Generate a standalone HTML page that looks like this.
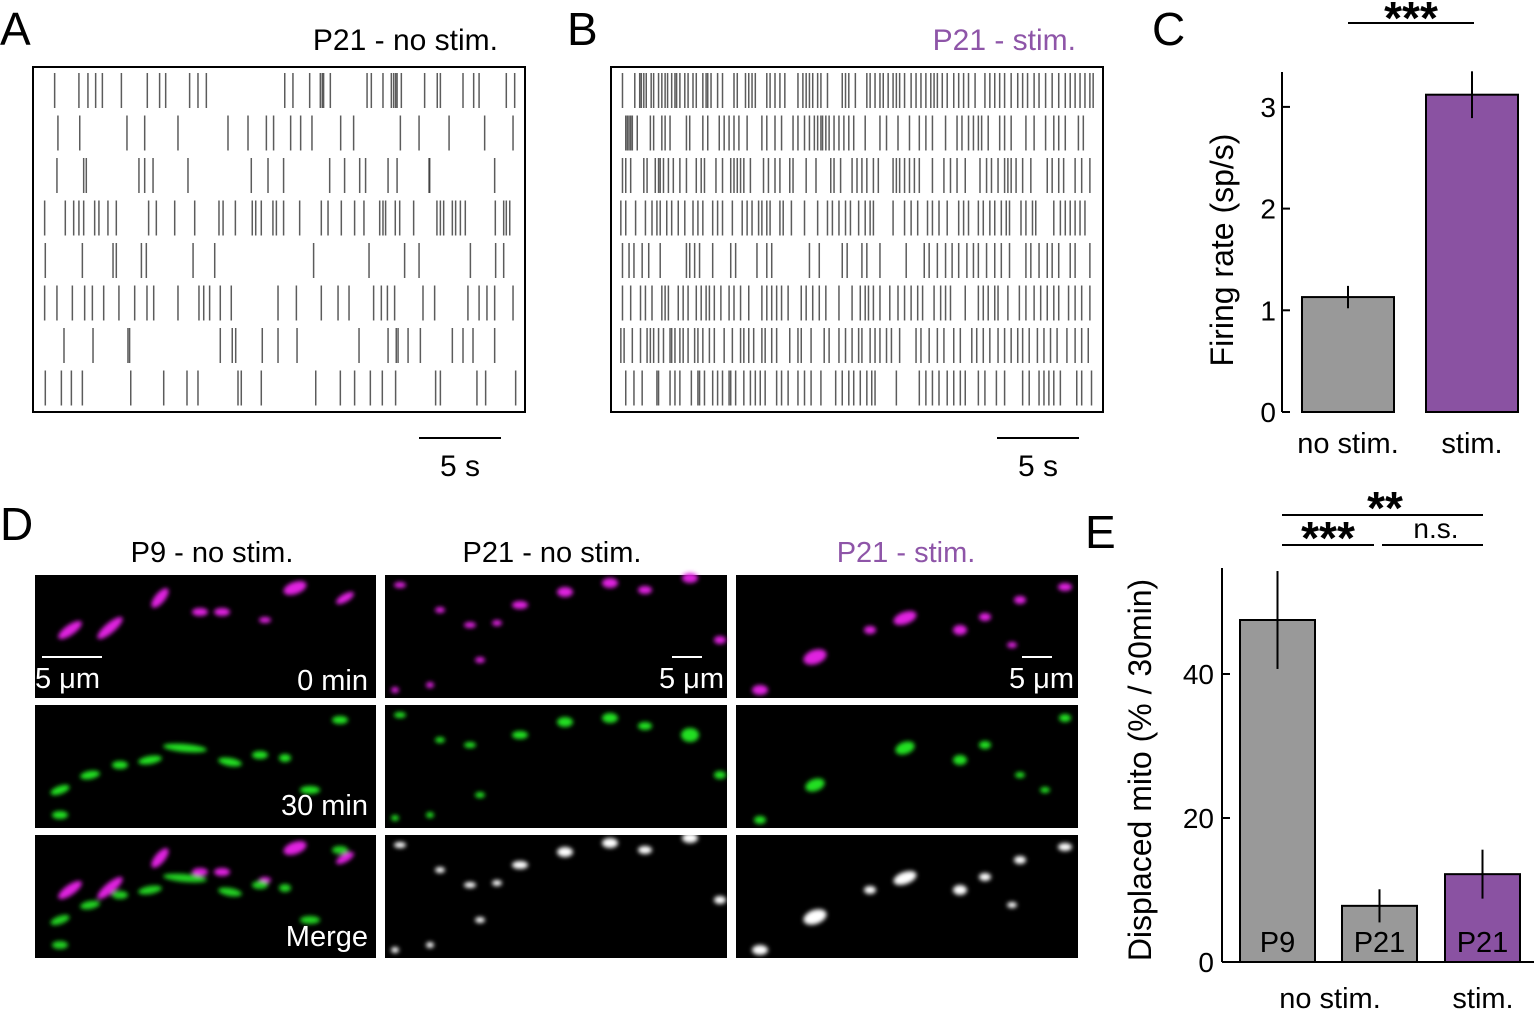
<!DOCTYPE html>
<html><head><meta charset="utf-8"><style>
html,body{margin:0;padding:0;background:#fff;}
svg text{font-family:"Liberation Sans",Arial,sans-serif;}
</style></head><body>
<svg id="fig" width="1535" height="1011" viewBox="0 0 1535 1011" xmlns="http://www.w3.org/2000/svg">
<defs>
<filter id="blur" x="-50%" y="-50%" width="200%" height="200%"><feGaussianBlur stdDeviation="2.2"/></filter>
</defs>
<g font-size="46" fill="#000">
<text x="0" y="45">A</text>
<text x="567" y="45">B</text>
<text x="1152" y="45">C</text>
<text x="0" y="540">D</text>
<text x="1085" y="548">E</text>
</g>
<text x="498" y="50" font-size="30" text-anchor="end">P21 - no stim.</text>
<text x="1076" y="50" font-size="30" text-anchor="end" fill="#8e55a8">P21 - stim.</text>
<rect x="33" y="67" width="492" height="345" fill="none" stroke="#000" stroke-width="2"/>
<rect x="611" y="67" width="492" height="345" fill="none" stroke="#000" stroke-width="2"/>
<g id="rasterA"></g>
<g id="rasterB"></g>
<line x1="419" y1="438" x2="501" y2="438" stroke="#000" stroke-width="2"/>
<text x="460" y="476" font-size="30" text-anchor="middle">5 s</text>
<line x1="997" y1="438" x2="1079" y2="438" stroke="#000" stroke-width="2"/>
<text x="1038" y="476" font-size="30" text-anchor="middle">5 s</text>

<g id="chartC"></g>
<g id="chartE"></g>

<g font-size="29">
<text x="212" y="562" text-anchor="middle">P9 - no stim.</text>
<text x="552" y="562" text-anchor="middle">P21 - no stim.</text>
<text x="906" y="562" text-anchor="middle" fill="#8e55a8">P21 - stim.</text>
</g>
<g id="images"></g>
</svg>
<script>
const rasterDuration = 30;
const spikesA = [
[1.32,2.80,3.35,3.82,4.23,5.39,6.97,7.72,8.09,9.55,10.06,10.57,15.35,15.85,16.87,17.52,17.64,17.72,18.13,20.37,20.63,21.34,21.85,21.99,22.11,22.20,22.46,23.88,24.65,24.84,26.22,26.87,27.20,28.86,29.37],
[1.52,2.85,5.73,6.81,8.84,11.89,13.11,14.23,14.67,15.71,16.32,17.01,18.76,19.55,22.40,23.54,25.37,27.54,29.27],
[1.46,3.09,3.25,6.46,6.81,7.32,9.45,13.31,14.33,15.28,18.09,19.00,19.92,20.28,21.65,22.20,24.15,24.19,28.15],
[0.71,1.97,2.48,2.80,3.09,3.76,4.02,4.57,5.08,7.05,7.52,8.64,9.86,11.34,11.59,12.34,13.37,13.58,13.92,14.63,14.84,15.28,16.26,17.58,17.99,18.80,19.61,20.18,21.14,21.34,21.50,22.09,22.36,23.21,24.63,24.84,25.04,25.57,25.77,26.06,26.36,28.19,28.70,28.86,29.07],
[0.75,3.01,4.88,5.08,6.61,6.91,9.76,11.08,17.11,20.49,22.66,23.54,26.67,28.21,28.70],
[0.71,1.46,2.40,3.15,3.62,4.31,5.24,6.20,6.95,7.36,8.84,10.12,10.41,10.77,11.42,12.09,14.94,16.06,17.58,18.60,19.27,20.77,21.24,21.61,22.05,23.78,24.49,26.52,27.20,27.68,28.15,29.27],
[1.89,3.66,5.79,5.89,11.42,12.15,12.36,13.98,14.94,16.10,19.88,21.65,22.15,22.26,22.87,23.62,25.57,26.22,26.83,28.15],
[0.75,1.73,2.34,3.01,5.96,7.97,9.39,10.06,12.50,12.70,13.92,17.24,18.74,19.61,20.57,21.30,22.11,24.55,24.84,27.07,27.60,29.43]
];
const spikesB = [
[0.7,1.45,1.75,1.85,2.0,2.15,2.45,2.6,2.9,3.1,3.3,3.45,3.7,3.9,4.0,4.2,4.5,4.7,5.0,5.2,5.6,5.8,5.9,6.1,6.5,6.8,7.5,7.7,8.2,8.4,8.6,8.8,9.5,9.7,10.0,10.3,10.6,11.4,11.7,11.9,12.1,12.3,12.6,12.8,13.2,14.1,14.3,14.5,14.9,15.6,15.8,16.1,16.4,16.6,16.9,17.2,17.4,17.6,17.9,18.3,18.6,18.9,19.2,19.5,19.7,19.9,20.2,20.5,20.9,21.2,21.5,21.8,22.2,22.8,23.1,23.4,23.7,24.0,24.4,24.8,25.1,25.4,25.8,26.1,26.5,26.9,27.3,27.7,28.0,28.3,28.6,28.9,29.2,29.4],
[0.9,1.0,1.1,1.2,1.3,1.6,2.4,2.6,3.1,3.3,3.6,4.6,4.8,5.6,5.9,6.6,6.9,7.2,7.5,7.8,8.3,9.2,9.5,10.0,10.4,11.1,11.4,11.8,12.1,12.4,12.6,12.8,12.9,13.1,13.3,13.6,13.9,14.2,14.5,14.8,15.5,16.4,16.8,17.5,18.2,18.8,19.2,19.6,20.4,21.1,21.4,21.8,22.1,22.4,22.6,23.0,23.7,24.0,24.4,25.3,25.8,26.5,27.0,27.3,27.7,28.5,28.8],
[0.7,0.9,1.2,2.0,2.2,2.7,2.9,3.0,3.2,3.5,3.8,4.2,4.6,5.2,5.5,5.7,6.4,6.8,7.3,7.5,7.7,7.9,8.1,8.5,9.3,9.6,10.0,10.3,10.9,11.1,11.9,12.5,13.4,13.6,14.0,14.7,15.0,15.3,15.6,16.0,16.3,17.2,17.4,17.6,17.9,18.2,18.5,18.8,19.6,20.3,20.7,21.1,21.6,22.5,22.9,23.2,23.6,24.0,24.2,24.4,24.7,25.1,25.6,26.6,26.9,27.3,27.6,28.3,28.7,29.2],
[0.6,0.9,1.5,2.1,2.5,2.8,3.0,3.4,3.7,4.1,4.5,5.0,5.3,5.6,6.2,6.5,6.8,7.4,8.0,8.3,8.6,9.0,9.2,9.5,9.7,10.3,10.5,11.0,11.8,12.6,13.2,13.5,13.9,14.3,14.6,15.1,15.5,15.8,16.0,17.2,17.9,18.3,18.7,19.3,19.6,20.0,20.5,21.2,21.5,21.8,22.4,22.7,23.1,23.4,23.8,24.1,24.3,25.0,25.3,25.7,25.9,27.0,27.4,27.7,28.0,28.3,28.6,28.9],
[0.7,1.1,1.4,1.9,2.3,3.0,4.6,4.8,5.1,5.4,6.2,7.3,7.6,8.9,9.5,9.8,12.1,12.7,14.1,14.4,15.3,15.6,16.4,18.0,19.1,19.4,19.9,20.4,20.8,21.2,21.7,22.1,22.4,22.9,23.4,23.8,24.3,25.3,25.6,26.1,26.6,26.9,27.3,28.0,28.3,29.2],
[0.7,1.2,1.8,2.1,2.5,3.1,3.3,3.5,4.1,4.4,4.7,5.2,5.5,5.8,6.0,6.3,6.7,7.2,7.5,7.9,8.4,9.2,9.5,9.8,10.1,10.4,10.8,11.6,11.9,12.3,12.7,13.1,13.9,14.7,15.2,15.5,15.7,16.0,16.4,17.0,17.5,17.9,18.3,18.7,19.0,19.7,20.1,20.4,20.7,21.6,22.4,22.7,23.0,23.4,23.6,24.2,24.9,25.3,25.8,26.2,26.6,27.0,27.3,27.9,28.3,28.7,29.2],
[0.6,0.8,1.3,1.8,2.2,2.4,2.6,2.9,3.2,3.6,3.7,3.9,4.2,4.4,4.7,5.1,5.3,5.6,6.0,6.3,6.9,7.4,7.9,8.1,8.4,8.7,9.2,9.4,9.8,10.1,10.9,11.4,11.6,12.2,13.0,13.3,13.9,14.3,14.7,15.1,15.3,15.8,16.1,16.4,16.8,17.1,17.6,18.6,18.9,19.4,19.9,20.3,20.9,21.3,22.0,22.3,22.7,23.1,23.6,24.0,24.4,24.8,25.1,25.5,26.0,26.4,26.8,27.2,27.8,28.3,28.7,29.1],
[0.9,1.4,1.9,2.8,2.9,3.6,3.9,4.2,4.9,5.3,5.4,5.7,6.2,6.5,6.8,7.2,7.3,7.6,8.1,8.5,8.8,9.1,9.4,10.1,10.4,10.8,11.4,11.8,12.2,12.8,13.7,14.1,14.5,14.8,15.2,15.6,15.9,16.1,17.4,18.8,19.2,19.6,20.0,20.5,20.9,21.3,21.6,22.4,22.8,23.5,24.0,25.1,25.5,26.1,26.4,26.7,27.0,27.4,28.4,28.7,29.3]
];
const firingCategories = ["no stim.","stim."];
const firingMeans = [1.13, 3.12];
const firingErr = [0.11, 0.23];
const firingTicks = [0,1,2,3];
const mitoLabels = ["P9","P21","P21"];
const mitoMeans = [47.5, 7.8, 12.2];
const mitoErr = [6.8, 2.3, 3.4];
const mitoTicks = [0,20,40];

const NS="http://www.w3.org/2000/svg";
function mk(tag, attrs, parent){const e=document.createElementNS(NS,tag);for(const k in attrs)e.setAttribute(k,attrs[k]);parent.appendChild(e);return e;}

function drawRaster(gid, data, x0, w){
  const g=document.getElementById(gid);
  const xs=t=>x0+t/rasterDuration*w;
  data.forEach((row,ri)=>{
    const y0=73+ri*42.5;
    row.forEach(t=>{
      const l=mk('line',{x1:xs(t),x2:xs(t),y1:y0,y2:y0+35,stroke:'#333','stroke-width':1.5,'stroke-opacity':0.8},g);
      
      
    });
  });
}
drawRaster('rasterA', spikesA, 33, 492);
drawRaster('rasterB', spikesB, 611, 492);

(function(){
  const g=document.getElementById('chartC');
  const y=v=>412-v*101.7;
  mk('line',{x1:1282,y1:72,x2:1282,y2:412,stroke:'#000','stroke-width':2},g);
  firingTicks.forEach(t=>{
    mk('line',{x1:1282,x2:1290,y1:y(t),y2:y(t),stroke:'#000','stroke-width':2},g);
    const tx=mk('text',{x:1276,y:y(t)+10,'font-size':28,'text-anchor':'end'},g);tx.textContent=t;
    
    
  });
  const lab=mk('text',{x:0,y:0,'font-size':32,'text-anchor':'middle',transform:'translate(1233,250) rotate(-90)'},g);
  lab.textContent='Firing rate (sp/s)';
  
  
  const colors=['#999999','#8a52a2'];
  const xs=[1302,1426], bw=92;
  firingMeans.forEach((v,i)=>{
    const r=mk('rect',{x:xs[i],y:y(v),width:bw,height:412-y(v),fill:colors[i],stroke:'#000','stroke-width':2},g);
    
    
    const cx=xs[i]+bw/2;
    mk('line',{x1:cx,x2:cx,y1:y(v+firingErr[i]),y2:y(v-firingErr[i]),stroke:'#000','stroke-width':2},g);
    const t=mk('text',{x:cx,y:453,'font-size':29,'text-anchor':'middle'},g);t.textContent=firingCategories[i];
    
    
  });
  mk('line',{x1:1348,x2:1474,y1:23,y2:23,stroke:'#000','stroke-width':2},g);
  const s=mk('text',{x:1411,y:34,'font-size':46,'font-weight':'bold','text-anchor':'middle'},g);s.textContent='***';
  
  
})();

(function(){
  const g=document.getElementById('chartE');
  const y=v=>962-v*7.2;
  mk('line',{x1:1222,y1:568,x2:1222,y2:962,stroke:'#000','stroke-width':2},g);
  mk('line',{x1:1222,y1:962,x2:1534,y2:962,stroke:'#000','stroke-width':2},g);
  mitoTicks.forEach(t=>{
    mk('line',{x1:1222,x2:1230,y1:y(t),y2:y(t),stroke:'#000','stroke-width':2},g);
    const tx=mk('text',{x:1214,y:y(t)+10,'font-size':28,'text-anchor':'end'},g);tx.textContent=t;
    
    
  });
  const lab=mk('text',{x:0,y:0,'font-size':32,'text-anchor':'middle',transform:'translate(1151,770) rotate(-90)'},g);
  lab.textContent='Displaced mito (% / 30min)';
  
  
  const colors=['#999999','#999999','#8a52a2'];
  const xs=[1240,1342,1445], bw=75;
  mitoMeans.forEach((v,i)=>{
    const r=mk('rect',{x:xs[i],y:y(v),width:bw,height:962-y(v),fill:colors[i],stroke:'#000','stroke-width':2},g);
    
    
    const cx=xs[i]+bw/2;
    mk('line',{x1:cx,x2:cx,y1:y(v+mitoErr[i]),y2:y(v-mitoErr[i]),stroke:'#000','stroke-width':2},g);
    const t=mk('text',{x:cx,y:952,'font-size':29,'text-anchor':'middle'},g);t.textContent=mitoLabels[i];
    
    
  });
  const a=mk('text',{x:1330,y:1008,'font-size':29,'text-anchor':'middle'},g);a.textContent='no stim.';
  
  
  const b=mk('text',{x:1483,y:1008,'font-size':29,'text-anchor':'middle'},g);b.textContent='stim.';
  
  
  mk('line',{x1:1282,x2:1483,y1:515,y2:515,stroke:'#000','stroke-width':2},g);
  mk('line',{x1:1282,x2:1374,y1:545,y2:545,stroke:'#000','stroke-width':2},g);
  mk('line',{x1:1382,x2:1483,y1:545,y2:545,stroke:'#000','stroke-width':2},g);
  const s1=mk('text',{x:1385,y:524,'font-size':46,'font-weight':'bold','text-anchor':'middle'},g);s1.textContent='**';
  
  
  const s2=mk('text',{x:1328,y:554,'font-size':46,'font-weight':'bold','text-anchor':'middle'},g);s2.textContent='***';
  
  
  const s3=mk('text',{x:1436,y:538,'font-size':28,'text-anchor':'middle'},g);s3.textContent='n.s.';
  
  
})();

(function(){
  const g=document.getElementById('images');
  const cols=[35,385,736], cw=[341,342,342], rows=[575,705,835], rh=123;
  const blobs=[
    [[70,630,14,5,-35],[110,628,16,5,-40],[160,598,12,5,-50],[200,612,8,4,0],[222,612,8,4,0],[295,588,12,6,-20],[345,598,10,4,-30],[265,620,6,3,0]],
    [[400,585,6,3,0],[440,610,5,3,0],[470,625,6,3,0],[497,623,5,3,0],[520,605,8,4,0],[565,592,8,5,0],[610,583,8,5,0],[645,590,7,4,0],[690,578,8,5,0],[720,640,6,4,0],[480,660,5,3,0],[430,685,4,3,0],[395,690,4,3,0]],
    [[760,690,8,5,0],[815,657,12,7,-20],[870,630,6,4,0],[905,618,12,6,-20],[960,630,7,5,0],[985,617,6,4,0],[1020,600,6,4,0],[1065,587,7,4,0],[1012,645,5,3,0]]
  ];
  const greenBlobs=[
    [[60,790,10,4,-20],[90,775,10,4,-10],[120,765,8,4,0],[150,760,12,4,-10],[185,748,22,4,5],[230,762,12,4,10],[260,755,8,4,0],[285,758,6,4,0],[340,720,8,4,0],[310,790,10,4,0],[60,815,8,4,0]],
    [[400,715,6,3,0],[440,740,5,3,0],[470,745,6,3,0],[520,735,8,4,0],[565,722,8,5,0],[610,718,8,5,0],[645,726,7,4,0],[690,735,9,7,0],[720,775,6,4,0],[480,795,5,3,0],[430,815,4,3,0],[395,818,4,3,0]],
    [[760,820,6,4,0],[815,785,10,6,-20],[905,748,10,6,-20],[960,760,7,5,0],[985,745,6,4,0],[1020,775,5,3,0],[1045,790,5,3,0],[1065,718,6,4,0]]
  ];
  for(let c=0;c<3;c++){
    for(let r=0;r<3;r++){
      const rect=mk('rect',{x:cols[c],y:rows[r],width:cw[c],height:rh,fill:'#000'},g);
      
      
    }
    const mg=mk('g',{filter:'url(#blur)'},g);
    blobs[c].forEach(b=>{
      mk('ellipse',{cx:b[0],cy:b[1],rx:b[2],ry:b[3],fill:'#e020e0',transform:`rotate(${b[4]} ${b[0]} ${b[1]})`},mg);
      mk('ellipse',{cx:b[0],cy:b[1]+260,rx:b[2],ry:b[3],fill:(c===0?'#e020e0':'#ffffff'),transform:`rotate(${b[4]} ${b[0]} ${b[1]+260})`},mg);
    });
    greenBlobs[c].forEach(b=>{
      mk('ellipse',{cx:b[0],cy:b[1],rx:b[2],ry:b[3],fill:'#20e020',transform:`rotate(${b[4]} ${b[0]} ${b[1]})`},mg);
      if(c===0) mk('ellipse',{cx:b[0],cy:b[1]+130,rx:b[2],ry:b[3],fill:'#20d020',transform:`rotate(${b[4]} ${b[0]} ${b[1]+130})`},mg);
    });
  }
  const labels=[[368,690,'0 min','end'],[368,815,'30 min','end'],[368,946,'Merge','end'],[35,688,'5 μm','start'],[724,688,'5 μm','end'],[1074,688,'5 μm','end']];
  labels.forEach(l=>{
    const t=mk('text',{x:l[0],y:l[1],'font-size':29,fill:'#fff','text-anchor':l[3]},g);t.textContent=l[2];
    
    
  });
  [[42,102],[672,702],[1022,1052]].forEach(s=>{
    const l=mk('line',{x1:s[0],x2:s[1],y1:657,y2:657,stroke:'#fff','stroke-width':2},g);
    
    
  });
})();
</script>
</body></html>
